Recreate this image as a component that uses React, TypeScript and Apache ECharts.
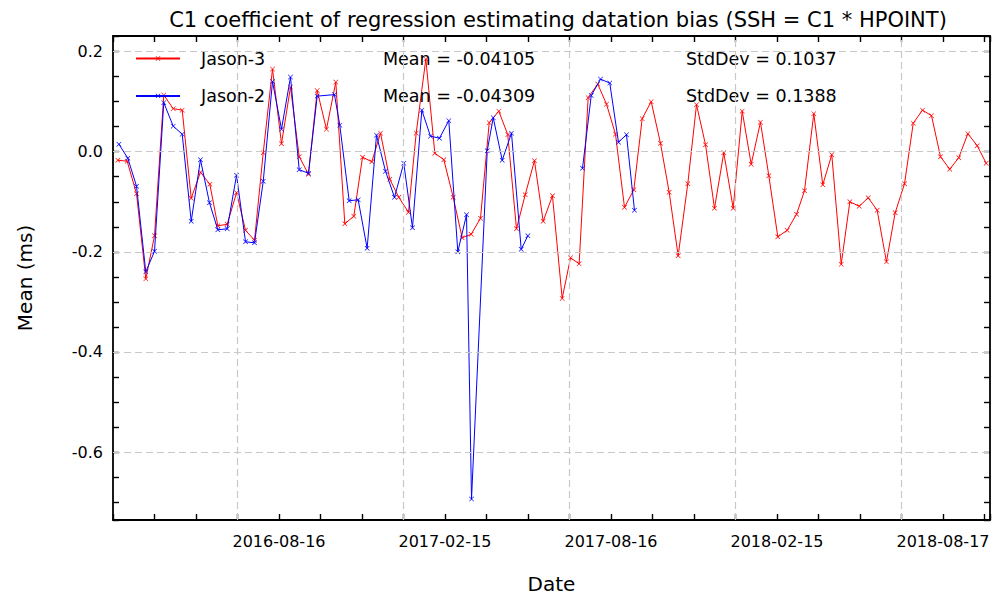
import React, { useEffect, useRef } from "react";
import * as echarts from "echarts";

const TITLE = "C1 coefficient of regression estimating datation bias (SSH = C1 * HPOINT)";
const X_NAME = "Date";
const Y_NAME = "Mean (ms)";
const X_LABELS = ["2016-08-16", "2017-02-15", "2017-08-16", "2018-02-15", "2018-08-17"];
const Y_LABELS = [0.2, 0.0, -0.2, -0.4, -0.6];

const SERIES_NAMES = ["Jason-3", "Jason-2"];
const MEAN_TEXT = ["-0.04105", "-0.04309"];
const STD_TEXT = ["0.1037", "0.1388"];

// x: days since the left edge of the axis (about 2016-02-15)
const j3Day = [
  5.3, 15.6, 25.9, 36.1, 45.7, 55.9, 66.3, 76.2, 86.1, 96.3,
  106.6, 115.4, 125.7, 136.0, 145.9, 155.8, 165.4, 175.6, 185.5, 195.4,
  205.0, 215.2, 224.8, 235.0, 245.3, 255.2, 265.1, 274.7, 284.9, 294.5,
  304.7, 314.6, 325.3, 333.8, 344.4, 354.3, 364.2, 374.5, 384.4, 394.3,
  404.6, 414.2, 424.7, 434.6, 444.2, 453.8, 464.0, 473.6, 483.8, 494.5,
  503.7, 513.2, 523.1, 533.7, 543.3, 553.2, 563.1, 573.4, 582.6, 592.5,
  602.7, 612.3, 622.2, 632.8, 642.4, 652.3, 662.2, 672.4, 682.8, 692.7,
  702.6, 712.8, 722.0, 731.9, 742.2, 752.5, 761.3, 771.5, 781.4, 791.3,
  801.7, 811.2, 821.5, 831.4, 841.3, 851.5, 861.1, 871.4, 881.0, 891.2,
  901.1, 911.0, 921.2, 931.1, 941.1, 951.4, 961.3,
];
const j3Val = [
  -0.017, -0.019, -0.084, -0.254, -0.168, 0.113, 0.086, 0.083, -0.093, -0.041,
  -0.065, -0.148, -0.145, -0.082, -0.157, -0.177, -0.002, 0.165, 0.016, 0.129,
  -0.010, -0.045, 0.122, 0.045, 0.139, -0.144, -0.129, -0.011, -0.020, 0.037,
  -0.055, -0.091, -0.121, 0.037, 0.185, -0.003, -0.016, -0.091, -0.172, -0.165,
  -0.133, 0.058, 0.081, 0.034, -0.154, -0.086, -0.018, -0.139, -0.088, -0.293,
  -0.212, -0.224, 0.108, 0.135, 0.095, 0.035, -0.111, -0.076, 0.066, 0.100,
  0.017, -0.081, -0.208, -0.064, 0.094, 0.014, -0.113, -0.002, -0.113, 0.081,
  -0.025, 0.059, -0.048, -0.170, -0.157, -0.125, -0.078, 0.076, -0.066, -0.006,
  -0.225, -0.100, -0.109, -0.092, -0.117, -0.220, -0.122, -0.064, 0.057, 0.083,
  0.072, -0.010, -0.035, -0.012, 0.036, 0.012, -0.023,
];

const j2Day = [
  6.5, 16.3, 25.9, 36.1, 45.7, 55.9, 66.3, 76.2, 86.1, 96.3,
  106.2, 115.4, 125.7, 136.0, 145.9, 155.8, 165.4, 175.6, 185.5, 195.4,
  205.0, 215.2, 224.8, 243.8, 249.7, 260.0, 269.9, 279.8, 290.1, 300.0,
  309.9, 320.1, 329.7, 340.0, 349.5, 359.4, 369.7, 379.6, 389.2, 394.7,
  412.0, 418.6, 428.5, 438.7, 449.4, 456.7, 487.0,
  516.9, 526.5, 536.7, 546.9, 556.5, 565.3, 574.1,
];
const j2Val: (number | null)[] = [
  0.015, -0.013, -0.069, -0.240, -0.199, 0.098, 0.051, 0.035, -0.139, -0.016,
  -0.102, -0.156, -0.154, -0.047, -0.180, -0.182, -0.059, 0.140, 0.045, 0.149,
  -0.036, -0.043, 0.111, 0.114, 0.053, -0.098, -0.096, -0.193, 0.033, -0.039,
  -0.091, -0.023, -0.152, 0.083, 0.031, 0.027, 0.062, -0.200, -0.126, -0.694,
  0.002, 0.068, -0.017, 0.037, -0.195, -0.168, null,
  -0.033, 0.112, 0.145, 0.137, 0.019, 0.034, -0.117,
];

const X_MAX = 965.5;
const TICK_DAYS = 45.6875;
const Y_MIN = -0.7357;
const Y_MAX = 0.2311;

const FONT = "DejaVu Sans";
const X_SYMBOL =
  "path://M0,0.9L0.9,0L5,4.1L9.1,0L10,0.9L5.9,5L10,9.1L9.1,10L5,5.9L0.9,10L0,9.1L4.1,5Z";

export default function App() {
  const ref = useRef<HTMLDivElement>(null);

  useEffect(() => {
    if (!ref.current) return;
    const chart = echarts.init(ref.current, undefined, { renderer: "svg" });

    const j3Data = j3Day.map((d, i) => [d, j3Val[i]]);
    const j2Data = j2Day.map((d, i) => [d, j2Val[i]]);

    const xLabelFmt = (v: number) => {
      const k = Math.round(v / TICK_DAYS);
      if (Math.abs(v - k * TICK_DAYS) > 1e-6 || k === 0 || k % 4 !== 0) return "";
      return X_LABELS[k / 4 - 1] ?? "";
    };
    const yLabelFmt = (v: number) => {
      const hit = Y_LABELS.find((y) => Math.abs(y - v) < 1e-6);
      return hit === undefined ? "" : hit.toFixed(1);
    };
    const gridDays = X_LABELS.map((_, i) => (4 * i + 3) * TICK_DAYS);

    const frameLine = { show: true, onZero: false, lineStyle: { color: "#000", width: 1.8 } };
    const tick = { show: true, inside: true, length: 6, lineStyle: { color: "#000", width: 1.4 } };

    const legendFmt = (name: string) => {
      const i = SERIES_NAMES.indexOf(name);
      return `{p|}{n|${name}}{m|Mean = ${MEAN_TEXT[i]}}{s|StdDev = ${STD_TEXT[i]}}`;
    };
    const richBase = { fontSize: 17.5, fontFamily: FONT, color: "#000", lineHeight: 20 };

    chart.setOption({
      animation: false,
      backgroundColor: "#fff",
      textStyle: { fontFamily: FONT },
      grid: { left: 113, right: 9, top: 36, bottom: 76, containLabel: false },
      graphic: [
        {
          type: "text",
          x: 558,
          y: 20,
          style: {
            text: TITLE,
            align: "center",
            verticalAlign: "middle",
            fontSize: 21,
            fontFamily: FONT,
            fill: "#000",
          },
        },
      ],
      legend: {
        data: SERIES_NAMES,
        orient: "vertical",
        left: 135,
        top: 48.5,
        padding: 0,
        itemWidth: 44,
        itemHeight: 6,
        itemGap: 17.4,
        selectedMode: false,
        formatter: legendFmt,
        textStyle: {
          ...richBase,
          rich: {
            p: { ...richBase, width: 16 },
            n: { ...richBase, width: 182 },
            m: { ...richBase, width: 303 },
            s: { ...richBase },
          },
        },
      },
      xAxis: [
        {
          type: "value",
          position: "bottom",
          min: 0,
          max: X_MAX,
          interval: TICK_DAYS,
          axisLine: frameLine,
          axisTick: tick,
          splitLine: { show: false },
          axisLabel: {
            formatter: xLabelFmt,
            margin: 13,
            color: "#000",
            fontSize: 16,
            fontFamily: FONT,
            showMinLabel: true,
            showMaxLabel: true,
          },
          name: X_NAME,
          nameLocation: "middle",
          nameGap: 54,
          nameTextStyle: { fontSize: 20, fontFamily: FONT, color: "#000" },
        },
        {
          type: "value",
          position: "top",
          min: 0,
          max: X_MAX,
          interval: TICK_DAYS,
          axisLine: frameLine,
          axisTick: tick,
          splitLine: { show: false },
          axisLabel: { show: false },
        },
      ],
      yAxis: [
        {
          type: "value",
          position: "left",
          min: Y_MIN,
          max: Y_MAX,
          splitNumber: 19,
          axisLine: frameLine,
          axisTick: tick,
          splitLine: { show: false },
          axisLabel: {
            formatter: yLabelFmt,
            margin: 10,
            color: "#000",
            fontSize: 16,
            fontFamily: FONT,
            showMinLabel: true,
            showMaxLabel: true,
          },
          name: Y_NAME,
          nameLocation: "middle",
          nameGap: 78,
          nameTextStyle: { fontSize: 20, fontFamily: FONT, color: "#000" },
        },
        {
          type: "value",
          position: "right",
          min: Y_MIN,
          max: Y_MAX,
          splitNumber: 19,
          axisLine: frameLine,
          axisTick: tick,
          splitLine: { show: false },
          axisLabel: { show: false },
        },
      ],
      series: [
        {
          name: "grid",
          type: "line",
          data: [],
          z: 1,
          silent: true,
          markLine: {
            silent: true,
            symbol: "none",
            label: { show: false },
            emphasis: { disabled: true },
            lineStyle: { color: "#c8c8c8", width: 1.2, type: [7, 4] },
            data: [
              ...gridDays.map((d) => ({ xAxis: d })),
              ...Y_LABELS.map((v) => ({ yAxis: v })),
            ],
          },
        },
        {
          name: SERIES_NAMES[0],
          type: "line",
          data: j3Data,
          z: 3,
          symbol: X_SYMBOL,
          symbolSize: 5,
          showSymbol: true,
          connectNulls: false,
          lineStyle: { color: "#ff0000", width: 1 },
          itemStyle: { color: "#ff0000" },
          emphasis: { disabled: true },
        },
        {
          name: SERIES_NAMES[1],
          type: "line",
          data: j2Data,
          z: 4,
          symbol: X_SYMBOL,
          symbolSize: 5,
          showSymbol: true,
          connectNulls: false,
          lineStyle: { color: "#0000ff", width: 1 },
          itemStyle: { color: "#0000ff" },
          emphasis: { disabled: true },
        },
      ],
    });

    return () => chart.dispose();
  }, []);

  return (
    <div
      ref={ref}
      style={{ position: "fixed", left: 0, top: 0, width: 999, height: 599, background: "#fff" }}
    />
  );
}
